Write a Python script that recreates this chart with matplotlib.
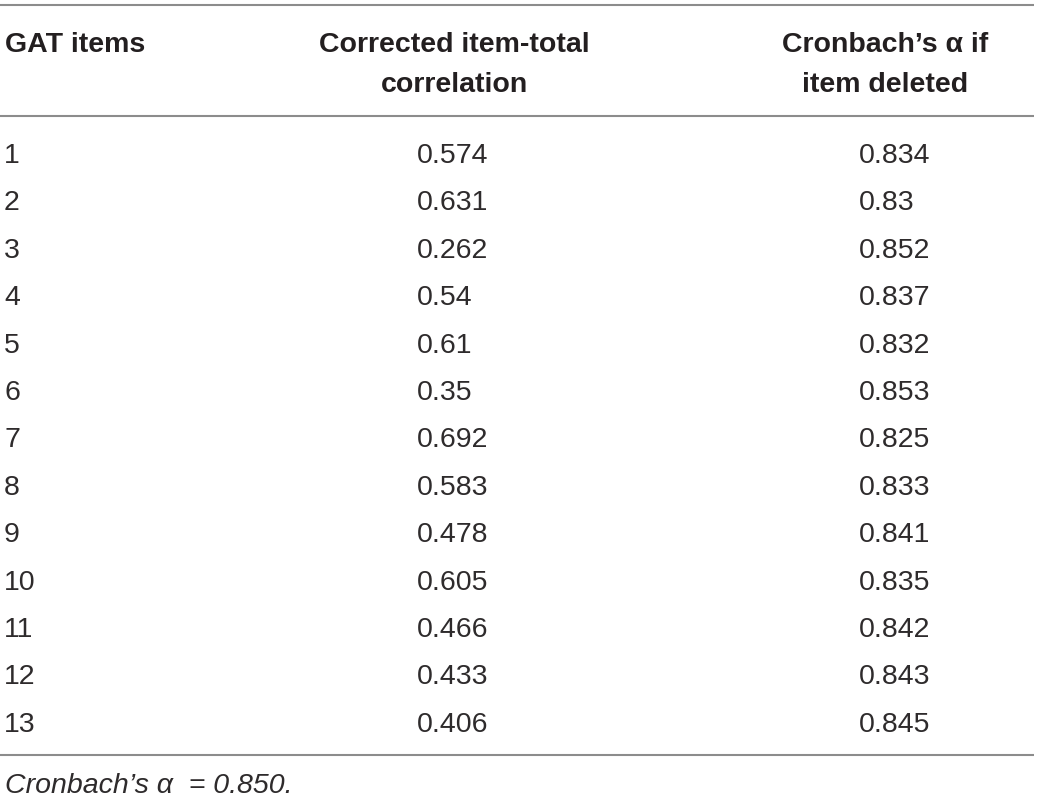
import matplotlib
matplotlib.use("Agg")
import matplotlib.pyplot as plt

# ---- data ----
header_col1 = "GAT items"
header_col2 = "Corrected item-total\ncorrelation"
header_col3 = "Cronbach\u2019s α if\nitem deleted"
items = ["1", "2", "3", "4", "5", "6", "7", "8", "9", "10", "11", "12", "13"]
item_total_corr = ["0.574", "0.631", "0.262", "0.54", "0.61", "0.35", "0.692",
                   "0.583", "0.478", "0.605", "0.466", "0.433", "0.406"]
alpha_if_deleted = ["0.834", "0.83", "0.852", "0.837", "0.832", "0.853", "0.825",
                    "0.833", "0.841", "0.835", "0.842", "0.843", "0.845"]
footnote = "Cronbach\u2019s α  = 0.850."

W, H = 1039, 799
fig = plt.figure(figsize=(W / 100, H / 100), dpi=100)
ax = fig.add_axes([0, 0, 1, 1])
ax.set_xlim(0, W)
ax.set_ylim(H, 0)
ax.axis("off")

FONT = "Liberation Sans"
TXT = "#231f20"
BODY = "#2e2b2c"
LINE = "#8c8c8c"
FS = 20.5

# rules
for y in (5, 116, 755):
    ax.plot([0, 1034], [y, y], color=LINE, lw=1.5, solid_capstyle="butt")

# header
ax.text(5, 52, header_col1, fontsize=FS, fontweight="bold", family=FONT,
        color=TXT, ha="left", va="baseline")
for txt, xc in ((header_col2, 454), (header_col3, 885)):
    l1, l2 = txt.split("\n")
    ax.text(xc, 52, l1, fontsize=FS, fontweight="bold", family=FONT,
            color=TXT, ha="center", va="baseline")
    ax.text(xc, 91.5, l2, fontsize=FS, fontweight="bold", family=FONT,
            color=TXT, ha="center", va="baseline")

# body rows
base0, pitch = 163, 47.4
for i, (a, b, c) in enumerate(zip(items, item_total_corr, alpha_if_deleted)):
    y = base0 + i * pitch
    ax.text(4, y, a, fontsize=FS, family=FONT, color=BODY, ha="left", va="baseline")
    ax.text(417, y, b, fontsize=FS, family=FONT, color=BODY, ha="left", va="baseline")
    ax.text(859, y, c, fontsize=FS, family=FONT, color=BODY, ha="left", va="baseline")

# footnote
ax.text(5, 793, footnote, fontsize=FS, family=FONT, style="italic",
        color=BODY, ha="left", va="baseline")

fig.savefig("out.png", dpi=100, facecolor="white")
